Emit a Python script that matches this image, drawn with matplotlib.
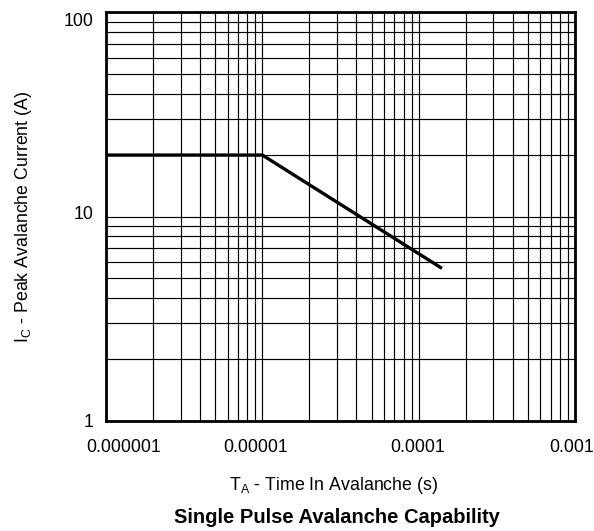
import matplotlib
matplotlib.use("Agg")
import matplotlib.pyplot as plt
from matplotlib.ticker import FixedLocator, FixedFormatter, LogLocator, NullFormatter
from matplotlib.transforms import ScaledTranslation

plt.rcParams['font.family'] = ['Liberation Sans', 'DejaVu Sans']
plt.rcParams['mathtext.default'] = 'regular'

# avalanche curve (time in s, current in A)
time_s = [1e-6, 1e-5, 1.41e-4]
current_a = [20, 20, 5.58]

x_ticks = [1e-6, 1e-5, 1e-4, 1e-3]
x_labels = ["0.000001", "0.00001", "0.0001", "0.001"]
y_ticks = [1, 10, 100]
y_labels = ["1", "10", "100"]

fig = plt.figure(figsize=(5.94, 5.31), dpi=100)
ax = fig.add_axes([0.1785, 0.2072, 0.7895, 0.7698])

ax.plot(time_s, current_a, color='black', linewidth=2.4, solid_capstyle='butt', zorder=3)

ax.set_xscale('log')
ax.set_yscale('log')
ax.set_xlim(1e-6, 1e-3)
ax.set_ylim(1, 100)

ax.xaxis.set_major_locator(FixedLocator(x_ticks))
ax.xaxis.set_major_formatter(FixedFormatter(x_labels))
ax.yaxis.set_major_locator(FixedLocator(y_ticks))
ax.yaxis.set_major_formatter(FixedFormatter(y_labels))
ax.xaxis.set_minor_locator(LogLocator(base=10, subs=range(2, 10)))
ax.yaxis.set_minor_locator(LogLocator(base=10, subs=range(2, 10)))
ax.xaxis.set_minor_formatter(NullFormatter())
ax.yaxis.set_minor_formatter(NullFormatter())

ax.grid(True, which='both', color='black', linewidth=0.85)
ax.tick_params(which='both', length=0, labelsize=12.8)
ax.tick_params(axis='x', pad=13)
ax.tick_params(axis='y', pad=9)
for s in ax.spines.values():
    s.set_linewidth(2)

# nudge a few labels the way the original sheet has them
xshift = [18, -7, -1, -3]
for lab, dx in zip(ax.get_xticklabels(), xshift):
    lab.set_transform(lab.get_transform() + ScaledTranslation(dx / 100, 0, fig.dpi_scale_trans))
yshift = [0, 4, -7]
for lab, dy in zip(ax.get_yticklabels(), yshift):
    lab.set_transform(lab.get_transform() + ScaledTranslation(0, dy / 100, fig.dpi_scale_trans))

ax.set_xlabel('T$_A$ - Time In Avalanche (s)', fontsize=12.8, va='center')
ax.xaxis.set_label_coords(0.485, -0.158)
ax.set_ylabel('I$_C$ - Peak Avalanche Current (A)', fontsize=12.8, va='center')
ax.yaxis.set_label_coords(-0.175, 0.5)

fig.text(0.567, 0.0245, 'Single Pulse Avalanche Capability', ha='center', va='center',
         fontsize=14.5, fontweight='bold')

plt.savefig("out.png")
